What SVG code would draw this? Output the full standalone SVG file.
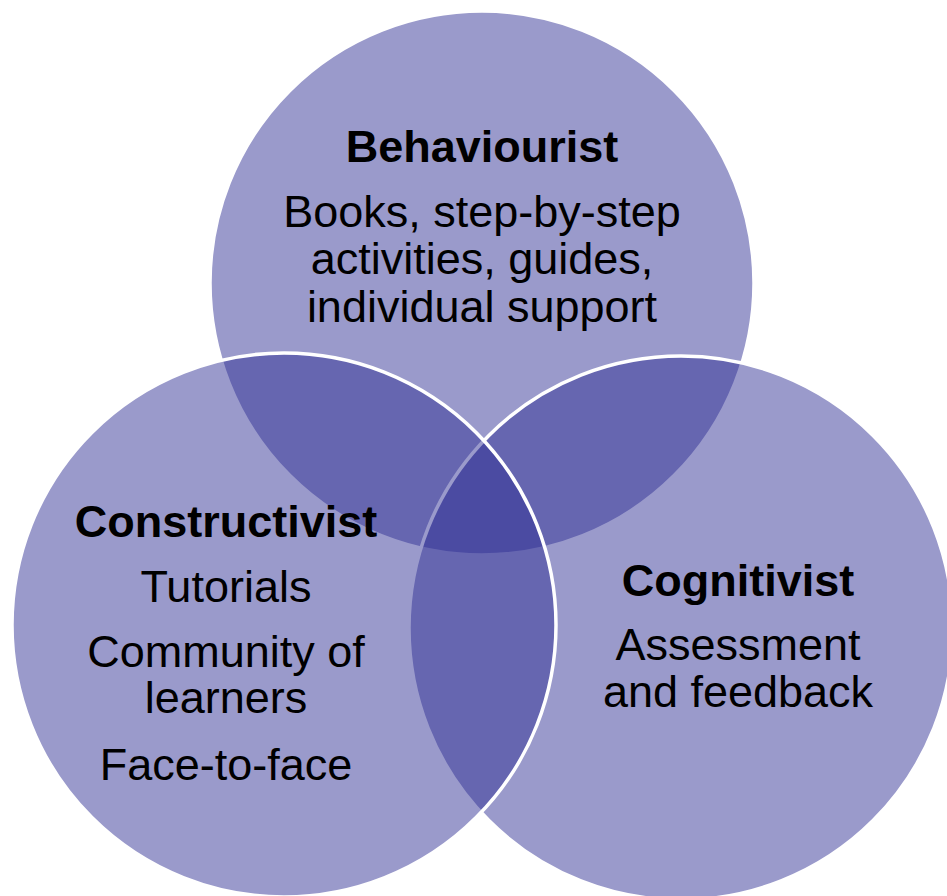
<svg xmlns="http://www.w3.org/2000/svg" width="947" height="896" viewBox="0 0 947 896">
<style>
.c{fill:#2f2f94;fill-opacity:0.485;stroke:#ffffff;stroke-width:3.5}
.h{font-family:"Liberation Sans",Arial,sans-serif;font-size:45px;font-weight:bold;fill:#000;text-anchor:middle}
.t{font-family:"Liberation Sans",Arial,sans-serif;font-size:45px;fill:#000;text-anchor:middle}
</style>
<rect width="947" height="896" fill="#ffffff"/>
<g id="behaviourist">
<circle class="c" cx="482" cy="283" r="272"/>
</g>
<g id="cognitivist">
<circle class="c" cx="681" cy="628" r="272"/>
</g>
<g id="constructivist">
<circle class="c" cx="284" cy="625" r="272"/>
</g>
<g id="connectors"></g>
<g id="labels">
<text class="h" x="482" y="162">Behaviourist</text>
<text class="t" x="482" y="227">Books, step-by-step</text>
<text class="t" x="482" y="274">activities, guides,</text>
<text class="t" x="482" y="322">individual support</text>
<text class="h" x="226" y="537">Constructivist</text>
<text class="t" x="226" y="602">Tutorials</text>
<text class="t" x="226" y="667">Community of</text>
<text class="t" x="226" y="713">learners</text>
<text class="t" x="226" y="780">Face-to-face</text>
<text class="h" x="738" y="596">Cognitivist</text>
<text class="t" x="738" y="660">Assessment</text>
<text class="t" x="738" y="707">and feedback</text>
</g>
</svg>
